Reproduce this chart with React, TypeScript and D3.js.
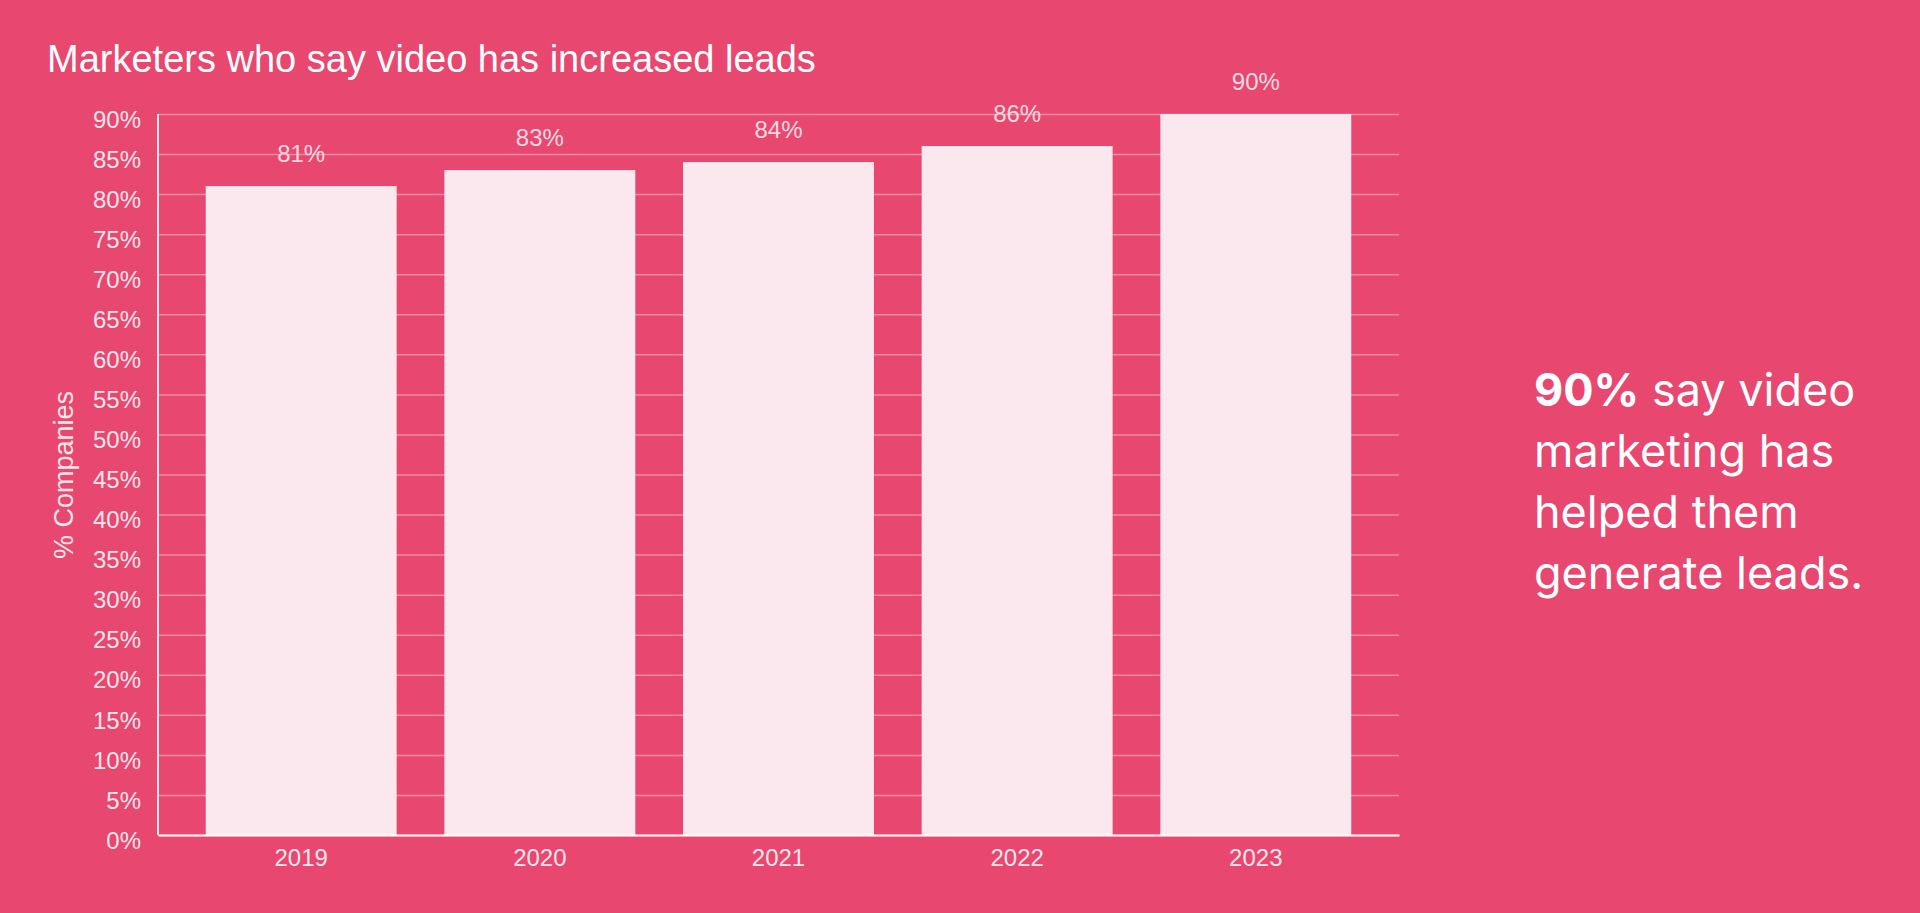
import React, { useEffect, useRef } from 'react'
import * as d3 from 'd3'

const years = ['2019', '2020', '2021', '2022', '2023']
const leadsShare = [81, 83, 84, 86, 90]
const yTicks = [0, 5, 10, 15, 20, 25, 30, 35, 40, 45, 50, 55, 60, 65, 70, 75, 80, 85, 90]
const calloutLines = ['say video', 'marketing has', 'helped them', 'generate leads.']

const WIDTH = 1920
const HEIGHT = 913
const margin = { left: 158, right: 521, top: 114, bottom: 78 }

const BG = '#e8476f'
const BAR = '#fae8ee'
const GRID = '#f08aa4'
const TEXT = '#fbe6ec'

const App = (): JSX.Element => {
  const ref = useRef<SVGSVGElement>(null)

  useEffect(() => {
    document.body.style.margin = '0'
    const root = d3.select(ref.current)
    root.selectAll('*').remove()

    const width = WIDTH - margin.left - margin.right
    const height = HEIGHT - margin.top - margin.bottom

    root.append('rect').attr('width', WIDTH).attr('height', HEIGHT).attr('fill', BG)

    root
      .append('text')
      .attr('x', 47)
      .attr('y', 72)
      .attr('fill', '#ffffff')
      .attr('font-family', 'Liberation Sans, Arial, sans-serif')
      .attr('font-size', 38)
      .text('Marketers who say video has increased leads')

    const svg = root
      .append('g')
      .attr('transform', 'translate(' + margin.left + ',' + margin.top + ')')

    const x = d3.scaleBand().domain(years).range([0, width]).paddingInner(0.2).paddingOuter(0.2)
    const y = d3.scaleLinear().domain([0, 90]).range([height, 0])

    // grid + labels
    const yAxis = d3
      .axisLeft(y)
      .tickValues(yTicks)
      .tickSize(-width)
      .tickFormat(d => d + '%')
    svg.append('g').call(g => {
      g.call(yAxis)
      g.select('.domain').remove()
      g.selectAll('.tick line').attr('stroke', GRID).attr('stroke-width', 1.5)
      g.selectAll('.tick text')
        .attr('x', -17)
        .attr('dy', '0.55em')
        .attr('fill', TEXT)
        .attr('font-family', 'Liberation Sans, Arial, sans-serif')
        .attr('font-size', 24)
    })

    svg
      .selectAll('.bar')
      .data(leadsShare)
      .enter()
      .append('rect')
      .attr('x', (d, i) => x(years[i]) as number)
      .attr('y', d => y(d))
      .attr('width', x.bandwidth())
      .attr('height', d => height - y(d))
      .attr('fill', BAR)

    svg
      .selectAll('.value')
      .data(leadsShare)
      .enter()
      .append('text')
      .attr('x', (d, i) => (x(years[i]) as number) + x.bandwidth() / 2)
      .attr('y', d => y(d) - 24)
      .attr('text-anchor', 'middle')
      .attr('fill', '#f7d9e2')
      .attr('font-family', 'Liberation Sans, Arial, sans-serif')
      .attr('font-size', 24)
      .text(d => d + '%')

    const xAxis = d3.axisBottom(x).tickSize(0)
    svg
      .append('g')
      .attr('transform', 'translate(0,' + height + ')')
      .call(g => {
        g.call(xAxis)
        g.select('.domain').attr('stroke', '#ffffff').attr('stroke-width', 2)
        g.selectAll('.tick text')
          .attr('dy', 0)
          .attr('y', 31)
          .attr('fill', TEXT)
          .attr('font-family', 'Liberation Sans, Arial, sans-serif')
          .attr('font-size', 24)
      })

    svg
      .append('line')
      .attr('x1', 0)
      .attr('x2', 0)
      .attr('y1', 0)
      .attr('y2', height)
      .attr('stroke', '#fbe6ec')
      .attr('stroke-width', 2)

    root
      .append('text')
      .attr('transform', 'translate(73,475) rotate(-90)')
      .attr('text-anchor', 'middle')
      .attr('fill', TEXT)
      .attr('font-family', 'Liberation Sans, Arial, sans-serif')
      .attr('font-size', 27)
      .text('% Companies')

    const callout = root
      .append('text')
      .attr('fill', '#ffffff')
      .attr('font-family', 'Inter, sans-serif')
      .attr('font-size', 45)
    calloutLines.forEach((line, i) => {
      const t = callout.append('tspan').attr('x', 1534).attr('y', 406 + i * 61)
      if (i === 0) {
        t.append('tspan').attr('font-weight', 700).text('90%')
        t.append('tspan').text(' ' + line)
      } else {
        t.text(line)
      }
    })
  }, [])

  return <svg ref={ref} width={WIDTH} height={HEIGHT} style={{ display: 'block' }} />
}

export default App
